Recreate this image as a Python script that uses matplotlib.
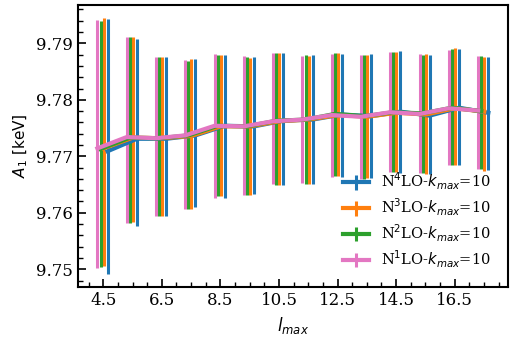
import numpy as np
import matplotlib
matplotlib.use("Agg")
import matplotlib.pyplot as plt
from matplotlib.ticker import MultipleLocator

plt.rcParams['font.family'] = 'serif'
plt.rcParams['mathtext.fontset'] = 'dejavusans'

# l_max values
lmax = np.arange(4.5, 18.0, 1.0)

# central values of A_1 [keV]
c_n1 = [9.7714, 9.7734, 9.7732, 9.7737, 9.7754, 9.7753, 9.7762, 9.7765, 9.7773, 9.7770, 9.7778, 9.7775, 9.7785, 9.7781]
c_n2 = [9.7713, 9.7733, 9.7732, 9.7737, 9.7754, 9.7753, 9.7763, 9.7765, 9.7775, 9.7771, 9.7778, 9.7776, 9.7786, 9.7780]
c_n3 = [9.7714, 9.7733, 9.7732, 9.7736, 9.7753, 9.7753, 9.7762, 9.7765, 9.7773, 9.7770, 9.7777, 9.7774, 9.7785, 9.7779]
c_n4 = [9.7709, 9.7731, 9.7731, 9.7737, 9.7754, 9.7753, 9.7763, 9.7765, 9.7774, 9.7771, 9.7779, 9.7772, 9.7786, 9.7777]

# upper ends of the error bars
hi_n1 = [9.7942, 9.7912, 9.7876, 9.7870, 9.7881, 9.7877, 9.7883, 9.7877, 9.7882, 9.7880, 9.7884, 9.7881, 9.7889, 9.7878]
hi_n2 = [9.7940, 9.7912, 9.7876, 9.7869, 9.7880, 9.7875, 9.7883, 9.7879, 9.7883, 9.7880, 9.7885, 9.7880, 9.7890, 9.7877]
hi_n3 = [9.7945, 9.7912, 9.7876, 9.7872, 9.7880, 9.7874, 9.7883, 9.7877, 9.7883, 9.7880, 9.7885, 9.7881, 9.7892, 9.7876]
hi_n4 = [9.7943, 9.7908, 9.7876, 9.7873, 9.7880, 9.7876, 9.7883, 9.7879, 9.7882, 9.7881, 9.7887, 9.7880, 9.7890, 9.7876]

# lower ends of the error bars
lo_n1 = [9.7503, 9.7582, 9.7595, 9.7606, 9.7627, 9.7632, 9.7651, 9.7653, 9.7664, 9.7660, 9.7673, 9.7671, 9.7684, 9.7678]
lo_n2 = [9.7504, 9.7582, 9.7595, 9.7606, 9.7629, 9.7631, 9.7649, 9.7651, 9.7665, 9.7660, 9.7672, 9.7670, 9.7684, 9.7677]
lo_n3 = [9.7506, 9.7584, 9.7594, 9.7607, 9.7629, 9.7632, 9.7650, 9.7651, 9.7665, 9.7661, 9.7672, 9.7669, 9.7684, 9.7674]
lo_n4 = [9.7491, 9.7577, 9.7594, 9.7610, 9.7627, 9.7633, 9.7650, 9.7651, 9.7664, 9.7662, 9.7671, 9.7669, 9.7684, 9.7676]

series = [
    (c_n4, lo_n4, hi_n4, 0.15, '#1f77b4', r'N$^4$LO-$k_{max}$=10'),
    (c_n3, lo_n3, hi_n3, 0.01, '#ff7f0e', r'N$^3$LO-$k_{max}$=10'),
    (c_n2, lo_n2, hi_n2, -0.09, '#2ca02c', r'N$^2$LO-$k_{max}$=10'),
    (c_n1, lo_n1, hi_n1, -0.2, '#e377c2', r'N$^1$LO-$k_{max}$=10'),
]

fig = plt.figure(figsize=(5.12, 3.41), dpi=100)
ax = fig.add_subplot(111)
fig.subplots_adjust(left=0.152, right=0.992, top=0.985, bottom=0.158)

for c, lo, hi, off, col, lab in series:
    c = np.array(c)
    err = [c - np.array(lo), np.array(hi) - c]
    ax.errorbar(lmax + off, c, yerr=err, color=col, lw=3, elinewidth=2.2,
                capsize=0, label=lab)

ax.set_xticks(np.arange(4.5, 17.0, 2.0))
ax.xaxis.set_minor_locator(MultipleLocator(0.5))
ax.yaxis.set_major_locator(MultipleLocator(0.01))
ax.yaxis.set_minor_locator(MultipleLocator(0.002))
ax.tick_params(which='both', direction='in', labelsize=12)
ax.tick_params(which='major', length=6, width=1.2)
ax.tick_params(which='minor', length=3.5, width=1)
for s in ax.spines.values():
    s.set_linewidth(1.5)

ax.set_xlabel(r'$l_{max}$', fontsize=12, family='sans-serif')
ax.set_ylabel(r'$A_1$ [keV]', fontsize=11, family='sans-serif')
ax.legend(loc='lower right', frameon=False, fontsize=10.5, handlelength=1.8,
          borderaxespad=0.8, labelspacing=0.3)

fig.savefig('out.png', dpi=100)
